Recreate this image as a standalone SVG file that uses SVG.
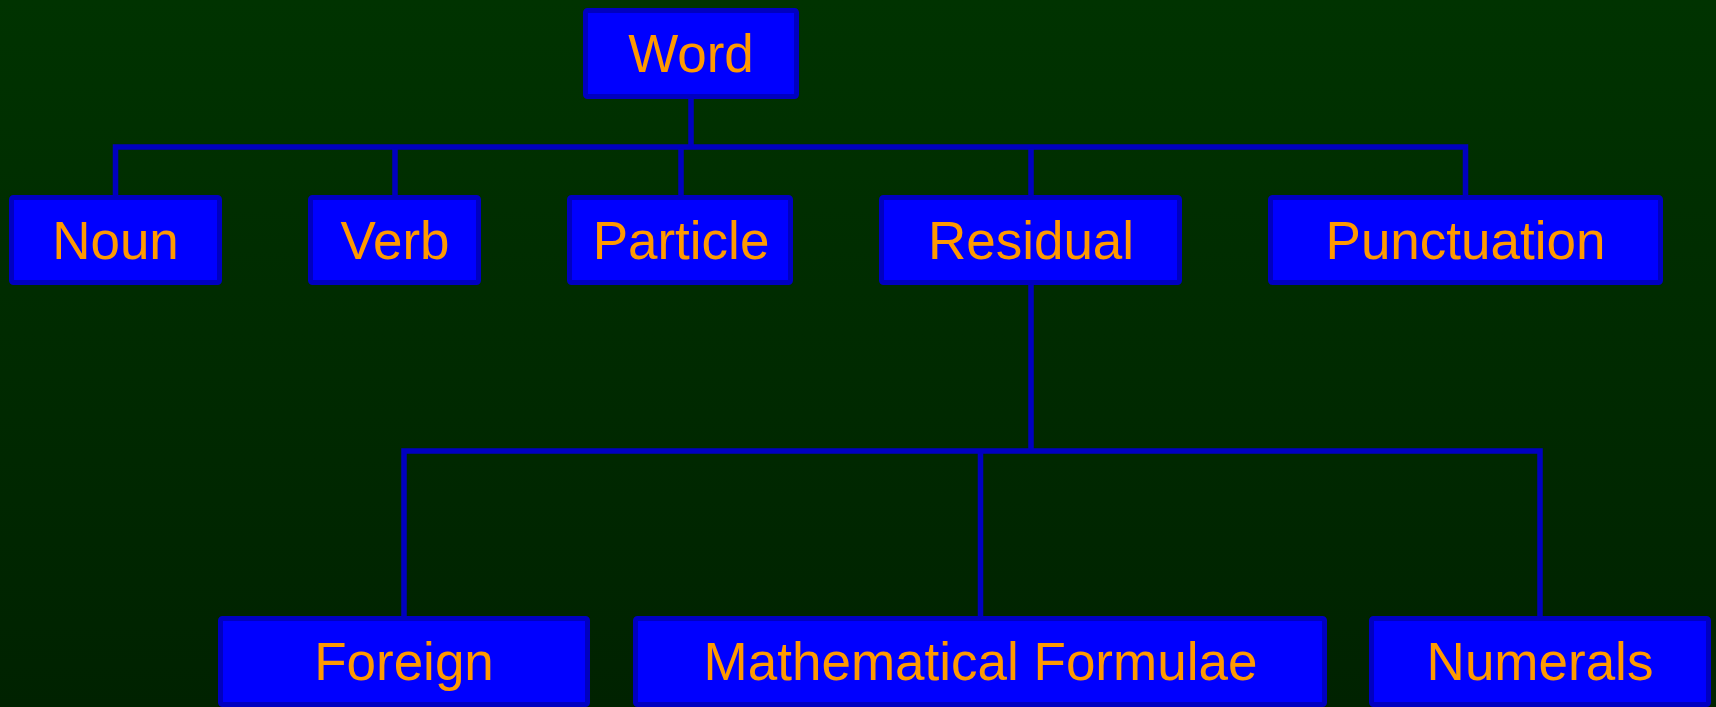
<svg xmlns="http://www.w3.org/2000/svg" width="1716" height="707" viewBox="0 0 1716 707">
<defs>
<linearGradient id="bg" x1="0" y1="0" x2="0" y2="1">
<stop offset="0" stop-color="#003300"/>
<stop offset="1" stop-color="#002200"/>
</linearGradient>
</defs>
<style>
.box{fill:#0000FF;stroke:#0000C0;stroke-width:5}
.lbl{font-family:"Liberation Sans",Arial,sans-serif;font-size:53px;fill:#FF9900;text-anchor:middle}
.conn{fill:none;stroke:#0000C0;stroke-width:5.5;stroke-linejoin:miter}
</style>
<rect x="0" y="0" width="1716" height="707" fill="url(#bg)"/>
<g id="connectors">
<polyline class="conn" points="691,99 691,147"/>
<polyline class="conn" points="115.5,195 115.5,147 1465.5,147 1465.5,195"/>
<polyline class="conn" points="395,147 395,195"/>
<polyline class="conn" points="681,147 681,195"/>
<polyline class="conn" points="1031,147 1031,195"/>
<polyline class="conn" points="1031,285 1031,451"/>
<polyline class="conn" points="404,616 404,451 1540,451 1540,616"/>
<polyline class="conn" points="980.5,451 980.5,616"/>
</g>
<g id="word"><rect class="box" x="585.5" y="10.5" width="211" height="86" rx="2"/><text class="lbl" x="691" y="72">Word</text></g>
<g id="noun"><rect class="box" x="11.5" y="197.5" width="208" height="85" rx="2"/><text class="lbl" x="115.5" y="259">Noun</text></g>
<g id="verb"><rect class="box" x="310.5" y="197.5" width="168" height="85" rx="2"/><text class="lbl" x="395" y="259">Verb</text></g>
<g id="particle"><rect class="box" x="569.5" y="197.5" width="221" height="85" rx="2"/><text class="lbl" x="681" y="259">Particle</text></g>
<g id="residual"><rect class="box" x="881.5" y="197.5" width="298" height="85" rx="2"/><text class="lbl" x="1031" y="259">Residual</text></g>
<g id="punctuation"><rect class="box" x="1270.5" y="197.5" width="390" height="85" rx="2"/><text class="lbl" x="1465.5" y="259">Punctuation</text></g>
<g id="foreign"><rect class="box" x="220.5" y="618.5" width="367" height="86" rx="2"/><text class="lbl" x="404" y="680">Foreign</text></g>
<g id="math"><rect class="box" x="635.5" y="618.5" width="689" height="86" rx="2"/><text class="lbl" x="980.5" y="680">Mathematical Formulae</text></g>
<g id="numerals"><rect class="box" x="1371.5" y="618.5" width="337" height="86" rx="2"/><text class="lbl" x="1540" y="680">Numerals</text></g>
</svg>
